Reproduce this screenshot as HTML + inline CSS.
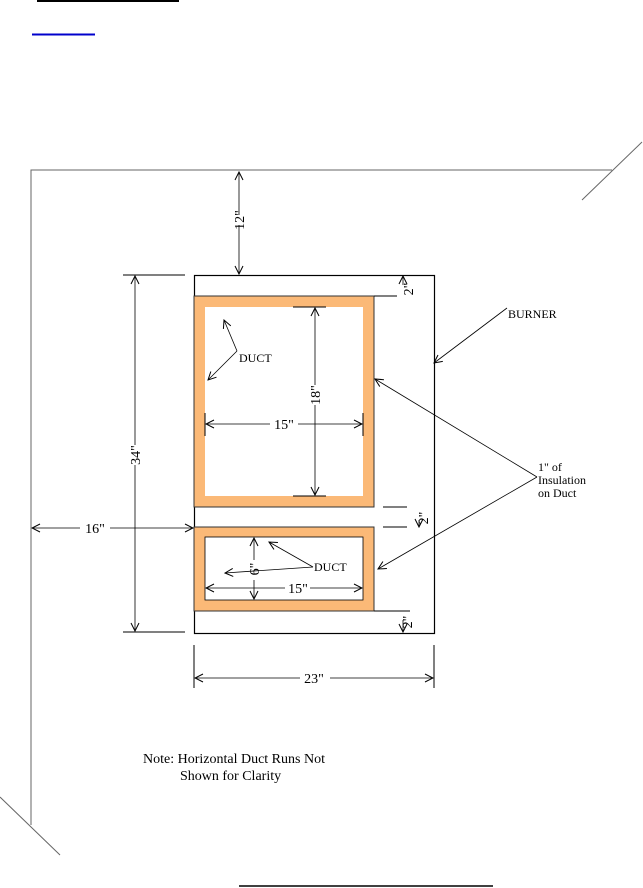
<!DOCTYPE html>
<html><head><style>body{margin:0;background:#fff}svg{display:block}text{font-family:"Liberation Serif",serif;fill:#000}</style></head><body>
<svg width="643" height="888" viewBox="0 0 643 888" xmlns="http://www.w3.org/2000/svg">
<defs><marker id="a" markerWidth="10" markerHeight="10" refX="9" refY="5" orient="auto" markerUnits="userSpaceOnUse"><path d="M1,1 L9,5 L1,9" fill="none" stroke="#000" stroke-width="1"/></marker></defs>
<line x1="37" y1="1" x2="179" y2="1" stroke="#000" stroke-width="2"/>
<line x1="32" y1="34.5" x2="95" y2="34.5" stroke="#0000cc" stroke-width="2"/>
<g stroke="#666" stroke-width="1" fill="none">
<polyline points="31,825 31,170 612,170"/>
<line x1="582" y1="200" x2="642" y2="142"/>
<line x1="0" y1="797" x2="60" y2="855"/>
</g>
<line x1="239" y1="886" x2="493" y2="886" stroke="#000" stroke-width="1.5"/>
<g stroke="#000" stroke-width="1.2" fill="none">
<rect x="194.5" y="275.5" width="240" height="358"/>
</g>
<rect x="194" y="296" width="180" height="211" fill="#fbb977" stroke="#333" stroke-width="1"/>
<rect x="205" y="307" width="158" height="189" fill="#fff"/>
<rect x="194" y="527" width="180" height="84" fill="#fbb977" stroke="#333" stroke-width="1"/>
<rect x="205" y="537" width="158" height="63" fill="#fff" stroke="#000" stroke-width="0.8"/>
<g stroke="#000" stroke-width="1" fill="none">
<line x1="374" y1="296" x2="397" y2="296"/>
<line x1="383" y1="507" x2="407" y2="507"/>
<line x1="383" y1="527" x2="407" y2="527"/>
<line x1="374" y1="611" x2="410" y2="611"/>
<line x1="123" y1="275" x2="185" y2="275"/>
<line x1="123" y1="632" x2="185" y2="632"/>
<line x1="194" y1="645" x2="194" y2="688"/>
<line x1="434" y1="645" x2="434" y2="688"/>
<line x1="293" y1="307" x2="326" y2="307"/>
<line x1="293" y1="496" x2="326" y2="496"/>
<line x1="205" y1="413" x2="205" y2="436"/>
<line x1="363" y1="413" x2="363" y2="436"/>
</g>
<g stroke="#000" stroke-width="0.8" fill="none" marker-end="url(#a)">
<line x1="239" y1="215" x2="239" y2="172"/><line x1="239" y1="225" x2="239" y2="274"/>
<line x1="135" y1="445" x2="135" y2="276"/><line x1="135" y1="465" x2="135" y2="631"/>
<line x1="80" y1="528" x2="32" y2="528"/><line x1="110" y1="528" x2="193" y2="528"/>
<line x1="300" y1="678" x2="195" y2="678"/><line x1="330" y1="678" x2="433" y2="678"/>
<line x1="403" y1="285" x2="403" y2="276"/>
<line x1="403" y1="620" x2="403" y2="632"/>
<line x1="419" y1="520" x2="419" y2="527"/>
<line x1="315" y1="385" x2="315" y2="308"/><line x1="315" y1="405" x2="315" y2="495"/>
<line x1="270" y1="424" x2="206" y2="424"/><line x1="298" y1="424" x2="362" y2="424"/>
<line x1="254" y1="560" x2="254" y2="538"/><line x1="254" y1="580" x2="254" y2="599"/>
<line x1="285" y1="588" x2="206" y2="588"/><line x1="310" y1="588" x2="362" y2="588"/>
<line x1="237" y1="351" x2="224" y2="320"/><line x1="237" y1="351" x2="208" y2="380"/>
<line x1="313" y1="567" x2="269" y2="542"/><line x1="313" y1="567" x2="225" y2="573"/>
<line x1="507" y1="308" x2="434" y2="363"/>
<line x1="537" y1="477" x2="375" y2="379"/><line x1="537" y1="477" x2="378" y2="569"/>
</g>
<g font-size="14">
<text transform="translate(244,220) rotate(-90)" text-anchor="middle">12"</text>
<text transform="translate(140,455) rotate(-90)" text-anchor="middle">34"</text>
<text x="95" y="533" text-anchor="middle">16"</text>
<text x="314" y="683" text-anchor="middle">23"</text>
<text transform="translate(320,395) rotate(-90)" text-anchor="middle">18"</text>
<text x="284" y="429" text-anchor="middle">15"</text>
<text transform="translate(259,569) rotate(-90)" text-anchor="middle">6"</text>
<text x="298" y="593" text-anchor="middle">15"</text>
<text transform="translate(413,289) rotate(-90)" text-anchor="middle">2"</text>
<text transform="translate(428,518) rotate(-90)" text-anchor="middle">2"</text>
<text transform="translate(412,622) rotate(-90)" text-anchor="middle">2"</text>
</g>
<g font-size="12">
<text x="239" y="362">DUCT</text>
<text x="314" y="571">DUCT</text>
<text x="508" y="318">BURNER</text>
<text x="538" y="471">1" of</text>
<text x="538" y="484">Insulation</text>
<text x="538" y="497">on Duct</text>
</g>
<g font-size="14">
<text x="143" y="763">Note: Horizontal Duct Runs Not</text>
<text x="180" y="780">Shown for Clarity</text>
</g>
</svg>
</body></html>
